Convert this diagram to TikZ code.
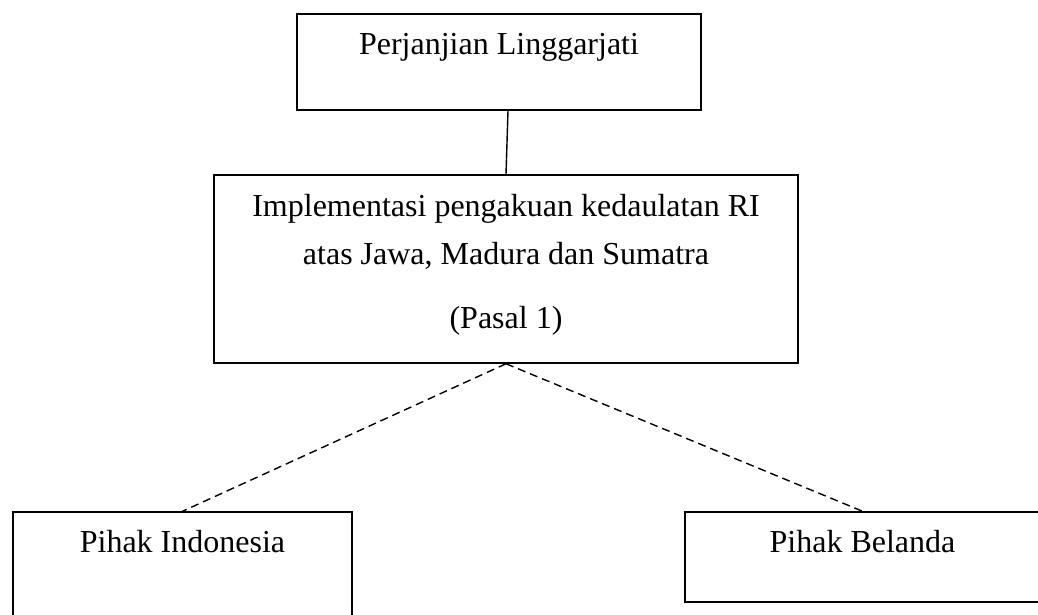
\documentclass[tikz,border=0pt]{standalone}
\usepackage{fontspec}
\setmainfont{Liberation Serif}
\begin{document}
\begin{tikzpicture}[x=1pt,y=-1pt,
  box/.style={draw=black, line width=1.5pt, rectangle, inner sep=0pt},
  lbl/.style={anchor=base, inner sep=0pt, font=\fontsize{32}{38}\selectfont},
  link/.style={draw=black, line width=1.4pt},
  dlink/.style={draw=black, line width=1.4pt, dash pattern=on 8pt off 5pt}]
\useasboundingbox (0,0) rectangle (1038,614);
\clip (0,0) rectangle (1038,614);
\fill[white] (0,0) rectangle (1038,614);
% boxes
\node[box, minimum width=404pt, minimum height=96pt] (top) at (499,62) {};
\node[box, minimum width=584pt, minimum height=188pt] (mid) at (506,269) {};
\node[box, minimum width=339pt, minimum height=128pt] (left) at (182.5,576) {};
\node[box, minimum width=355pt, minimum height=90pt] (right) at (862.5,557) {};
% texts
\node[lbl] (t1) at (499,54) {Perjanjian Linggarjati};
\node[lbl] (m1) at (506,216) {Implementasi pengakuan kedaulatan RI};
\node[lbl] (m2) at (506,264) {atas Jawa, Madura dan Sumatra};
\node[lbl] (m3) at (506,328) {(Pasal 1)};
\node[lbl] (l1) at (182.5,552) {Pihak Indonesia};
\node[lbl] (r1) at (862.5,552) {Pihak Belanda};
% connectors
\draw[link] ([xshift=9pt]top.south) -- (mid.north);
\draw[dlink] (mid.south) -- (left.north);
\draw[dlink] (mid.south) -- (right.north);
\end{tikzpicture}
\end{document}
